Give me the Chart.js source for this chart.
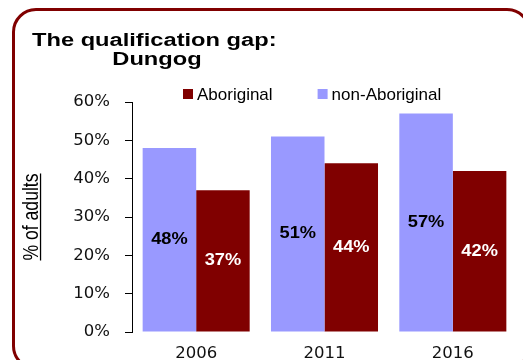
<!DOCTYPE html>
<html>
<head>
<meta charset="utf-8">
<script src="https://cdn.jsdelivr.net/npm/chart.js@4"></script>
<style>
  html, body { margin: 0; padding: 0; background: #fff; }
  body { width: 523px; height: 360px; position: relative; overflow: hidden; }
  .frame {
    position: absolute; left: 12px; top: 8px;
    width: 513px; height: 356px;
    border: 3px solid #800000; border-radius: 24px;
  }
  #wrap { position: absolute; left: 0; top: 0; width: 523px; height: 360px; }
</style>
</head>
<body>
<div class="frame"></div>
<div id="wrap"><canvas id="gap"></canvas></div>
<script>
const years = ["2006", "2011", "2016"];
const nonAboriginal = [48, 51, 57];
const aboriginal = [37, 44, 42];
const yTicks = [0, 10, 20, 30, 40, 50, 60];

const titleLines = ["The qualification gap:", "Dungog"];
const yTitle = "% of adults";

// text in this chart is a little wider than the stock fonts
function wideText(ctx, text, x, y, sx, align) {
	ctx.save();
	ctx.translate(x, y);
	ctx.scale(sx, 1);
	ctx.textAlign = align;
	ctx.fillText(text, 0, 0);
	ctx.restore();
}

const decorations = {
	id: "decorations",
	afterDraw(chart) {
		const ctx = chart.ctx;
		const area = chart.chartArea;

		// title, two lines
		ctx.save();
		ctx.fillStyle = "#000";
		ctx.textBaseline = "alphabetic";
		ctx.font = "bold 18.8px 'Liberation Sans', Arial, sans-serif";
		wideText(ctx, titleLines[0], 32, 46, 1.26, "left");
		wideText(ctx, titleLines[1], 157, 65, 1.26, "center");
		ctx.restore();

		// rotated, underlined y axis title
		ctx.save();
		ctx.fillStyle = "#000";
		ctx.strokeStyle = "#000";
		ctx.font = "17.6px 'Liberation Sans', Arial, sans-serif";
		ctx.translate(38, (area.top + area.bottom) / 2);
		ctx.scale(1.27, 1);
		ctx.rotate(-Math.PI / 2);
		ctx.textAlign = "center";
		ctx.textBaseline = "alphabetic";
		ctx.fillText(yTitle, 0, 0);
		const w = ctx.measureText(yTitle).width;
		ctx.lineWidth = 1;
		ctx.beginPath();
		ctx.moveTo(-w / 2, 2);
		ctx.lineTo(w / 2, 2);
		ctx.stroke();
		ctx.restore();

		// legend, Aboriginal listed first
		ctx.save();
		ctx.font = "17px 'Liberation Sans', Arial, sans-serif";
		ctx.textBaseline = "alphabetic";
		ctx.textAlign = "left";
		let lx = 183;
		chart.data.datasets.slice().reverse().forEach((ds) => {
			ctx.fillStyle = ds.backgroundColor;
			ctx.fillRect(lx, 89, 10, 10);
			ctx.fillStyle = "#000";
			ctx.fillText(ds.label, lx + 14, 100);
			lx += 14 + ctx.measureText(ds.label).width + 45;
		});
		ctx.restore();

		// value labels in the middle of each bar
		ctx.save();
		ctx.font = "bold 16.3px 'Liberation Sans', Arial, sans-serif";
		ctx.textBaseline = "middle";
		chart.data.datasets.forEach((ds, i) => {
			const meta = chart.getDatasetMeta(i);
			meta.data.forEach((bar, j) => {
				const p = bar.getProps(["x", "y", "base"], true);
				ctx.fillStyle = ds.labelColor;
				wideText(ctx, ds.data[j] + "%", p.x, (p.y + p.base) / 2, 1.12, "center");
			});
		});
		ctx.restore();
	},
};

new Chart(document.getElementById("gap"), {
	type: "bar",
	data: {
		labels: years,
		datasets: [
			{
				label: "non-Aboriginal",
				data: nonAboriginal,
				backgroundColor: "#9999ff",
				labelColor: "#000",
			},
			{
				label: "Aboriginal",
				data: aboriginal,
				backgroundColor: "#800000",
				labelColor: "#fff",
			},
		],
	},
	options: {
		responsive: true,
		maintainAspectRatio: false,
		animation: false,
		layout: { padding: { top: 102, right: 6, left: 0, bottom: 0 } },
		datasets: {
			bar: { categoryPercentage: 0.834, barPercentage: 1, borderWidth: 0 },
		},
		plugins: {
			legend: { display: false },
			title: { display: false },
			tooltip: { enabled: false },
		},
		scales: {
			x: {
				grid: { display: false, drawTicks: false },
				border: { display: false },
				ticks: {
					color: "#111",
					padding: 12,
					font: { family: "'DejaVu Sans'", size: 16.5 },
				},
				afterFit(scale) {
					scale.height = 28;
				},
			},
			y: {
				min: 0,
				max: 60,
				afterBuildTicks(scale) {
					scale.ticks = yTicks.map((v) => ({ value: v }));
				},
				grid: {
					drawOnChartArea: false,
					drawTicks: true,
					tickLength: 7,
					color: "#000",
				},
				border: { display: true, color: "#000", width: 1 },
				ticks: {
					color: "#111",
					padding: 15,
					font: { family: "'DejaVu Sans'", size: 16.5 },
					callback: (v) => v + "%",
				},
				afterFit(scale) {
					scale.width = 132;
				},
			},
		},
	},
	plugins: [decorations],
});
</script>
</body>
</html>
